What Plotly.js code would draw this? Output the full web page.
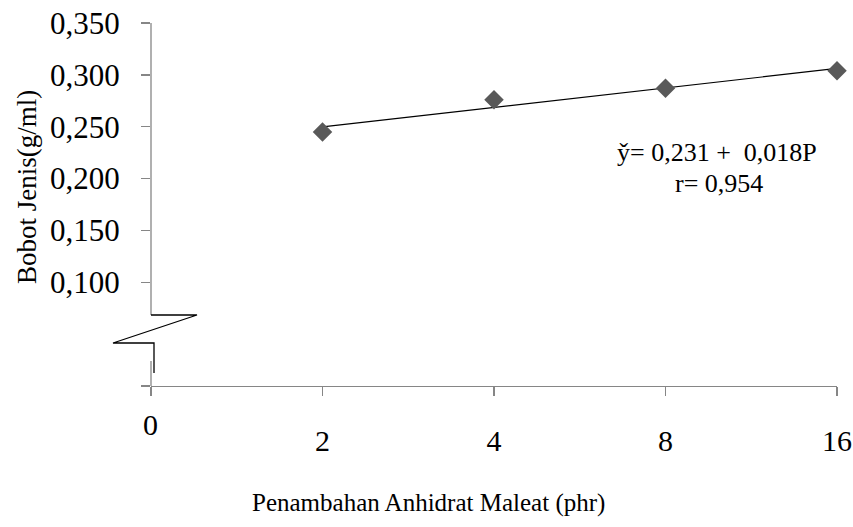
<!DOCTYPE html>
<html>
<head>
<meta charset="utf-8">
<script src="https://cdn.plot.ly/plotly-3.0.1.min.js"></script>
<style>html,body{margin:0;padding:0;background:#fff;}#chart{width:853px;height:527px;}</style>
</head>
<body>
<div id="chart"></div>
<script>
// Data
const categories = ['0', '2', '4', '8', '16'];
const pointCategories = ['2', '4', '8', '16'];
const bobotJenis = [0.245, 0.276, 0.287, 0.304];
const yTickVals = [0, 0.1, 0.15, 0.2, 0.25, 0.3, 0.35];
const yTickText = ['', '0,100', '0,150', '0,200', '0,250', '0,300', '0,350'];
const equationText = 'y\u030C= 0,231 +  0,018P';
const rText = 'r= 0,954';

// Positions of categories on a numeric axis
const xIndex = c => categories.indexOf(c);
const px = pointCategories.map(xIndex);

// Least squares trendline from the data (P = 1..4)
const n = px.length;
const mx = px.reduce((a, b) => a + b, 0) / n;
const my = bobotJenis.reduce((a, b) => a + b, 0) / n;
let sxy = 0, sxx = 0;
for (let i = 0; i < n; i++) { sxy += (px[i] - mx) * (bobotJenis[i] - my); sxx += (px[i] - mx) ** 2; }
const slope = sxy / sxx, intercept = my - slope * mx;
const trendX = [px[0], px[n - 1]];
const trendY = trendX.map(x => intercept + slope * x);

// layout geometry (pixels)
const L = 151, R = 837, T = 23, B = 386;
const W = 853, H = 527;
const gx = p => (p - L) / (R - L);
const gy = p => (B - p) / (B - T);
const grey = '#868686';
const font = 'Liberation Serif, Times New Roman, serif';

const traces = [
  { x: trendX, y: trendY, type: 'scatter', mode: 'lines', line: { color: '#000', width: 1.2 }, hoverinfo: 'skip', showlegend: false, cliponaxis: false },
  { x: px, y: bobotJenis, type: 'scatter', mode: 'markers', marker: { symbol: 'diamond', size: 15, color: '#595959' }, showlegend: false, cliponaxis: false }
];

const shapes = [
  // y-axis line above the break
  { type: 'line', xref: 'paper', yref: 'paper', x0: gx(151), x1: gx(151), y0: gy(T), y1: gy(315), line: { color: grey, width: 1.3 } },
  // y-axis line below the break
  { type: 'line', xref: 'paper', yref: 'paper', x0: gx(151), x1: gx(151), y0: gy(361), y1: gy(B), line: { color: grey, width: 1.3 } },
  // break zigzag
  { type: 'path', xref: 'paper', yref: 'paper',
    path: 'M ' + gx(151) + ' ' + gy(315) + ' L ' + gx(197) + ' ' + gy(315) + ' L ' + gx(113) + ' ' + gy(343) + ' L ' + gx(154) + ' ' + gy(343) + ' L ' + gx(154) + ' ' + gy(373),
    line: { color: '#000', width: 1.3 } }
];

const ann = (text, x, y, size, extra) => Object.assign({
  text: text, xref: 'paper', yref: 'paper', x: gx(x), y: gy(y), xanchor: 'center', yanchor: 'middle',
  showarrow: false, font: { family: font, size: size, color: '#000' }, borderpad: 0
}, extra || {});

const annotations = [
  ann(equationText, 717, 153, 26),
  ann(rText, 719, 183, 26),
  ann('Bobot Jenis(g/ml)', 27, 187, 27, { textangle: -90 }),
  ann('Penambahan Anhidrat Maleat (phr)', 428, 503, 25),
  ann(categories[0], 150, 424, 30)
];

const layout = {
  width: W, height: H,
  margin: { l: L, r: W - R, t: T, b: H - B, pad: 0 },
  paper_bgcolor: '#fff', plot_bgcolor: '#fff',
  showlegend: false,
  xaxis: {
    range: [0, categories.length - 1], tickvals: categories.map((c, i) => i), ticktext: categories.map((c, i) => i === 0 ? '' : c),
    showline: true, linecolor: grey, linewidth: 1.3, showgrid: false, zeroline: false,
    ticks: 'outside', ticklen: 9, tickcolor: grey, tickwidth: 1.3,
    tickfont: { family: font, size: 30, color: '#000' }, ticklabelstandoff: 19
  },
  yaxis: {
    range: [0, 0.35], tickvals: yTickVals, ticktext: yTickText,
    showline: false, showgrid: false, zeroline: false,
    ticks: 'outside', ticklen: 9, tickcolor: grey, tickwidth: 1.3,
    tickfont: { family: font, size: 31, color: '#000' }, ticklabelstandoff: 15
  },
  shapes: shapes,
  annotations: annotations
};

Plotly.newPlot('chart', traces, layout, { displayModeBar: false, staticPlot: true });
</script>
</body>
</html>
